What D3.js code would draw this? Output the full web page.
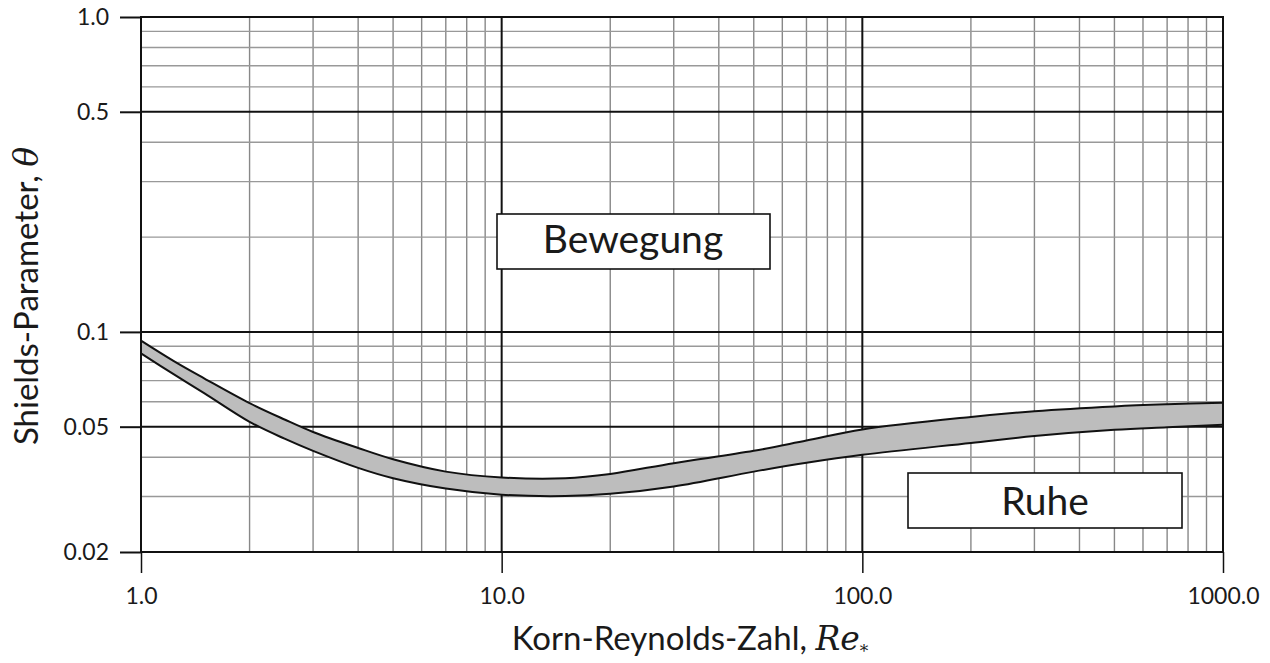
<!DOCTYPE html>
<html>
<head>
<meta charset="utf-8">
<script src="https://cdn.jsdelivr.net/npm/d3@7"></script>
<style>
  html, body { margin: 0; padding: 0; background: #fff; }
  svg { display: block; }
  text { font-family: Lato, "Noto Sans", sans-serif; fill: #1a1a1a; }
</style>
</head>
<body>
<svg id="chart" width="1270" height="663"></svg>
<script>
// Shields diagram: critical Shields parameter vs. particle Reynolds number
const reValues   = [1, 1.25, 1.5, 2, 2.5, 3, 4, 5, 7, 10, 15, 20, 30, 50, 70, 100, 200, 300, 500, 700, 1000];
const thetaUpper = [0.0938, 0.0800, 0.0711, 0.0594, 0.0527, 0.0481, 0.0428, 0.0394, 0.0360, 0.0345, 0.0343,
                    0.0354, 0.0383, 0.0419, 0.0452, 0.0490, 0.0537, 0.0560, 0.0580, 0.0589, 0.0596];
const thetaLower = [0.0855, 0.0726, 0.0638, 0.0518, 0.0458, 0.0419, 0.0370, 0.0343, 0.0318, 0.0304, 0.0301,
                    0.0306, 0.0323, 0.0360, 0.0384, 0.0407, 0.0444, 0.0467, 0.0489, 0.0498, 0.0507];

const xTickValues = [1, 10, 100, 1000];
const xTickLabels = ["1.0", "10.0", "100.0", "1000.0"];
const yTickValues = [1.0, 0.5, 0.1, 0.05, 0.02];
const yTickLabels = ["1.0", "0.5", "0.1", "0.05", "0.02"];
const yMinorValues = [0.9, 0.8, 0.7, 0.6, 0.4, 0.3, 0.2, 0.09, 0.08, 0.07, 0.06, 0.04, 0.03];

const regionLabels = ["Bewegung", "Ruhe"];

const svg = d3.select("#chart");
const plotLeft = 141, plotRight = 1223, plotTop = 17, plotBottom = 552;

const x = d3.scaleLog().domain([1, 1000]).range([plotLeft, plotRight]);
const y = d3.scaleLog().domain([0.02, 1.0]).range([plotBottom, plotTop]);

// minor vertical grid: 2..9 in each decade
const xMinor = [];
for (let d = 1; d <= 100; d *= 10) for (let k = 2; k <= 9; k++) xMinor.push(d * k);

const grid = svg.append("g");
grid.selectAll(".vminor").data(xMinor).join("line")
  .attr("x1", d => x(d)).attr("x2", d => x(d))
  .attr("y1", plotTop).attr("y2", plotBottom)
  .attr("stroke", "#888").attr("stroke-width", 1.4);
grid.selectAll(".hminor").data(yMinorValues).join("line")
  .attr("x1", plotLeft).attr("x2", plotRight)
  .attr("y1", d => y(d)).attr("y2", d => y(d))
  .attr("stroke", "#999").attr("stroke-width", 1.4);
grid.selectAll(".vmajor").data(xTickValues).join("line")
  .attr("x1", d => x(d)).attr("x2", d => x(d))
  .attr("y1", plotTop).attr("y2", plotBottom)
  .attr("stroke", "#111").attr("stroke-width", 2);
grid.selectAll(".hmajor").data(yTickValues).join("line")
  .attr("x1", plotLeft).attr("x2", plotRight)
  .attr("y1", d => y(d)).attr("y2", d => y(d))
  .attr("stroke", "#111").attr("stroke-width", 2);

// band between the upper and lower threshold curves
const bandData = reValues.map((r, i) => ({ r, hi: thetaUpper[i], lo: thetaLower[i] }));
const curve = d3.curveCatmullRom.alpha(0.5);
svg.append("path").datum(bandData)
  .attr("d", d3.area().x(d => x(d.r)).y0(d => y(d.lo)).y1(d => y(d.hi)).curve(curve))
  .attr("fill", "#bdbdbd");
svg.append("path").datum(bandData)
  .attr("d", d3.line().x(d => x(d.r)).y(d => y(d.hi)).curve(curve))
  .attr("fill", "none").attr("stroke", "#111").attr("stroke-width", 2);
svg.append("path").datum(bandData)
  .attr("d", d3.line().x(d => x(d.r)).y(d => y(d.lo)).curve(curve))
  .attr("fill", "none").attr("stroke", "#111").attr("stroke-width", 2);

// region label boxes
const boxes = [
  { text: regionLabels[0], x0: 497, x1: 770, y0: 214, y1: 269, tx: 633, ty: 253 },
  { text: regionLabels[1], x0: 908, x1: 1182, y0: 473, y1: 528, tx: 1045, ty: 515 }
];
const bg = svg.append("g");
bg.selectAll("rect").data(boxes).join("rect")
  .attr("x", d => d.x0).attr("y", d => d.y0)
  .attr("width", d => d.x1 - d.x0).attr("height", d => d.y1 - d.y0)
  .attr("fill", "#fff").attr("stroke", "#111").attr("stroke-width", 1.6);
bg.selectAll("text").data(boxes).join("text")
  .attr("x", d => d.tx).attr("y", d => d.ty)
  .attr("text-anchor", "middle").attr("font-size", 39)
  .text(d => d.text);

// frame
svg.append("rect").attr("x", plotLeft).attr("y", plotTop)
  .attr("width", plotRight - plotLeft).attr("height", plotBottom - plotTop)
  .attr("fill", "none").attr("stroke", "#111").attr("stroke-width", 2);

// axes
const xAxis = d3.axisBottom(x).tickValues(xTickValues)
  .tickFormat((d, i) => xTickLabels[i]).tickSize(21).tickSizeOuter(0).tickPadding(15);
const gx = svg.append("g").attr("transform", `translate(0,${plotBottom})`).call(xAxis);
gx.select(".domain").remove();
gx.selectAll(".tick line").attr("stroke", "#111").attr("stroke-width", 1.5);
gx.selectAll(".tick text").attr("font-size", 23).attr("fill", "#1a1a1a")
  .attr("font-family", "Lato, 'Noto Sans', sans-serif");

const yAxis = d3.axisLeft(y).tickValues(yTickValues)
  .tickFormat((d, i) => yTickLabels[i]).tickSize(21).tickSizeOuter(0).tickPadding(11);
const gy = svg.append("g").attr("transform", `translate(${plotLeft},0)`).call(yAxis);
gy.select(".domain").remove();
gy.selectAll(".tick line").attr("stroke", "#111").attr("stroke-width", 2);
gy.selectAll(".tick text").attr("font-size", 23).attr("fill", "#1a1a1a")
  .attr("font-family", "Lato, 'Noto Sans', sans-serif");

// axis titles
const xt = svg.append("text").attr("x", 690).attr("y", 650)
  .attr("text-anchor", "middle").attr("font-size", 33);
xt.append("tspan").text("Korn-Reynolds-Zahl, ");
xt.append("tspan").attr("font-family", "'DejaVu Serif', serif").attr("font-style", "italic").text("Re");
xt.append("tspan").attr("font-family", "'DejaVu Serif', serif").attr("font-size", 17)
  .attr("dy", 7).text("*");

const yt = svg.append("text").attr("transform", "translate(38,296) rotate(-90)")
  .attr("text-anchor", "middle").attr("font-size", 33);
yt.append("tspan").text("Shields-Parameter, ");
yt.append("tspan").attr("font-family", "'DejaVu Serif', serif").attr("font-style", "italic").text("θ");
</script>
</body>
</html>
